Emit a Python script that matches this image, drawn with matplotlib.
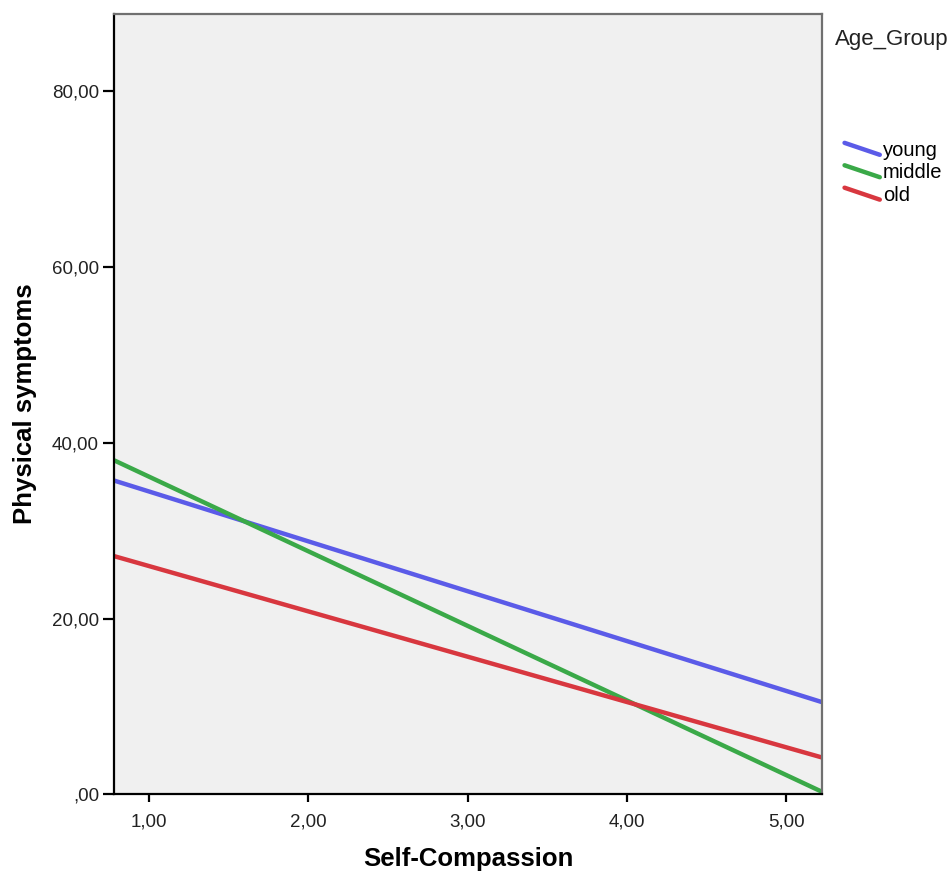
import matplotlib
matplotlib.use('Agg')
import matplotlib.pyplot as plt
from matplotlib.lines import Line2D
from matplotlib.legend_handler import HandlerBase
from matplotlib.ticker import FuncFormatter

plt.rcParams['font.family'] = ['Liberation Sans', 'DejaVu Sans']

# fit line end points (Self-Compassion range)
x_range = [0.782, 5.224]
groups = ['young', 'middle', 'old']
young = [35.7, 10.5]
middle = [38.0, 0.3]
old = [27.1, 4.2]
colors = ['#5b5be8', '#3aa948', '#d8373f']
xticks = [1, 2, 3, 4, 5]
yticks = [0, 20, 40, 60, 80]


class SlantHandler(HandlerBase):
    # SPSS draws the legend keys as short slanted strokes
    def create_artists(self, legend, orig_handle, xdescent, ydescent,
                       width, height, fontsize, trans):
        mid = height / 2 - ydescent
        line = Line2D([-xdescent, -xdescent + width],
                      [mid + 4.3, mid - 4.3],
                      color=orig_handle.get_color(),
                      linewidth=orig_handle.get_linewidth(),
                      solid_capstyle='round', transform=trans)
        return [line]


def fmt(v, pos):
    s = f"{v:.2f}".replace('.', ',')
    if s.startswith('0'):
        s = s[1:]
    return s


fig = plt.figure(figsize=(9.5, 8.75), dpi=100)
ax = fig.add_axes([0.1203, 0.0922, 0.7447, 0.8918])
ax.set_facecolor('#f0f0f0')

handles = []
for name, vals, c in zip(groups, [young, middle, old], colors):
    h, = ax.plot(x_range, vals, color=c, linewidth=3.2, label=name,
                 solid_capstyle='butt')
    handles.append(h)

ax.set_xlim(x_range[0], x_range[1])
ax.set_ylim(0, 88.8)
ax.set_xticks(xticks)
ax.set_yticks(yticks)
ax.xaxis.set_major_formatter(FuncFormatter(fmt))
ax.yaxis.set_major_formatter(FuncFormatter(fmt))
ax.tick_params(axis='y', length=8, width=1.6, labelsize=13.5, pad=3,
               colors='black', labelcolor='#222222')
ax.tick_params(axis='x', length=6, width=1.6, labelsize=13.5, pad=8,
               colors='black', labelcolor='#222222')

for side in ['left', 'bottom']:
    ax.spines[side].set_color('black')
    ax.spines[side].set_linewidth(1.6)
for side in ['top', 'right']:
    ax.spines[side].set_color('#707070')
    ax.spines[side].set_linewidth(1.6)

ax.set_xlabel('Self-Compassion', fontsize=18.5, fontweight='bold', labelpad=12)
ax.set_ylabel('Physical symptoms', fontsize=18.5, fontweight='bold', labelpad=11)

fig.text(0.879, 0.955, 'Age_Group', fontsize=16, color='#222222',
         ha='left', va='center')
fig.legend(handles=handles, loc='upper left', bbox_to_anchor=(0.889, 0.839),
           frameon=False, fontsize=14.5, handlelength=1.75,
           handletextpad=0.15, labelspacing=0.17, borderpad=0,
           borderaxespad=0, handler_map={Line2D: SlantHandler()})

fig.savefig('out.png', dpi=100)
